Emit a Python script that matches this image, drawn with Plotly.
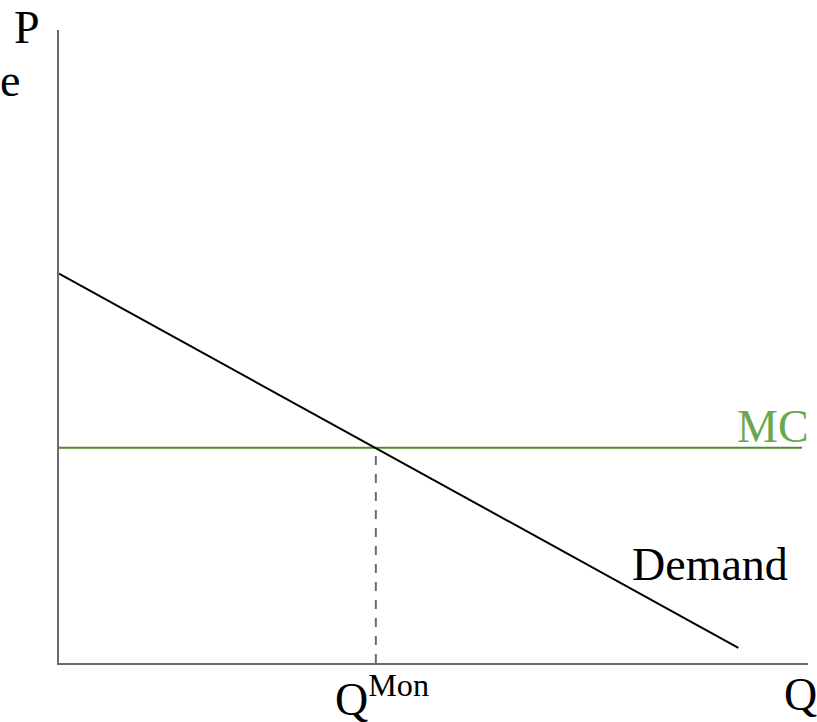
import plotly.graph_objects as go

# Economic values (arbitrary units: Q axis 0..100, P axis 0..100)
demand_q = [0.0, 90.7]
demand_p = [61.5, 2.4]
mc_q = [0.0, 99.2]
mc_p = [34.0, 34.0]
q_mon = 42.3
labels = {"P": "P", "e": "e", "MC": "MC", "Demand": "Demand", "Qmon": "Q<sup>Mon</sup>", "Q": "Q"}

W, H = 817, 722
L, T = 59, 30
R, B = W - 808, H - 663
FONT = "Liberation Serif, Times New Roman, serif"
GREEN_LINE = "#468f2a"
GREEN_TEXT = "#6aa84f"

fig = go.Figure()
fig.add_trace(go.Scatter(x=mc_q, y=mc_p, mode="lines",
                         line=dict(color=GREEN_LINE, width=2), hoverinfo="skip"))
fig.add_trace(go.Scatter(x=[q_mon, q_mon], y=[0, mc_p[0]], mode="lines",
                         line=dict(color="#6b6b6b", width=2, dash="dash"), hoverinfo="skip"))
fig.add_trace(go.Scatter(x=demand_q, y=demand_p, mode="lines",
                         line=dict(color="black", width=2), hoverinfo="skip"))

pw, ph = W - L - R, H - T - B
def px(x): return (x - L) / pw
def py(y): return (H - B - y) / ph

ann = [
    dict(text=labels["P"], x=px(27), y=py(0), color="black", ya="top"),
    dict(text=labels["e"], x=px(10), y=py(80), color="black", ya="middle"),
    dict(text=labels["MC"], x=px(773), y=py(426), color=GREEN_TEXT, ya="middle"),
    dict(text=labels["Demand"], x=px(710), y=py(564), color="black", ya="middle"),
    dict(text=labels["Q"], x=px(800), y=py(694), color="black", ya="middle"),
    dict(text=labels["Qmon"], x=px(382), y=py(665), color="black", ya="top"),
]
for a in ann:
    fig.add_annotation(text=a["text"], x=a["x"], y=a["y"], xref="paper", yref="paper",
                       xanchor="center", yanchor=a["ya"], showarrow=False,
                       font=dict(family=FONT, size=46, color=a["color"]))

fig.update_layout(
    width=W, height=H, margin=dict(l=L, r=R, t=T, b=B),
    paper_bgcolor="white", plot_bgcolor="white", showlegend=False,
    xaxis=dict(range=[0, 100], showgrid=False, zeroline=False, showticklabels=False,
               ticks="", showline=True, linecolor="#6b6b6b", linewidth=2, fixedrange=True),
    yaxis=dict(range=[0, 100], showgrid=False, zeroline=False, showticklabels=False,
               ticks="", showline=True, linecolor="#6b6b6b", linewidth=2, fixedrange=True),
)
fig.write_html("out.html", config={"displayModeBar": False},
               post_script="document.body.style.margin='0';document.body.style.overflow='hidden';")
